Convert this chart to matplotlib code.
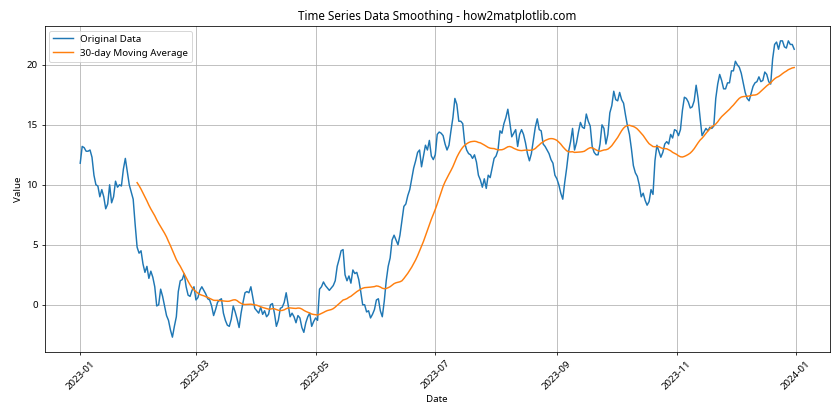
import matplotlib
matplotlib.use("Agg")
import matplotlib.pyplot as plt
import numpy as np
import pandas as pd

# daily values, 2023-01-01 .. 2023-12-31
jan_feb = [
    11.8, 13.2, 13.1, 12.8, 12.8, 12.9, 12.3, 10.8, 10.0, 9.9,
    9.0, 9.6, 9.0, 8.0, 8.4, 10.0, 8.5, 9.0, 10.3, 9.8,
    10.0, 9.9, 11.3, 12.2, 11.1, 10.0, 9.4, 8.8, 6.7, 4.8,
    4.3, 4.5, 3.4, 2.7, 3.2, 2.2, 2.8, 2.3, 1.5, -0.1,
    0.0, 1.3, 0.7, -0.1, -0.9, -1.3, -2.1, -2.7, -1.8, -1.0,
    1.1, 2.0, 2.1, 2.6, 1.5, 0.8, 0.7, 1.2, 1.5, 0.4,
]
mar_apr = [
    0.6, 1.2, 1.5, 1.2, 0.9, 0.5, 0.4, -0.1, -0.9, -0.4,
    0.2, 0.4, 0.5, -0.7, -1.3, -1.7, -1.8, -1.2, -0.1, -0.6,
    -1.2, -1.9, -0.7, 0.2, 1.0, 1.1, 1.0, 1.5, 0.6, -0.3,
    -0.5, -0.7, -0.2, -0.8, -0.5, -1.0, -0.8, 0.0, 0.1, -0.7,
    -1.8, -1.3, -0.3, -0.2, 0.2, 1.0, 0.0, -1.0, -0.7, -1.0,
    -1.5, -0.9, -1.1, -1.9, -2.3, -1.5, -1.0, -0.7, -1.8, -1.4,
]
may_jun = [
    -1.1, -1.3, 1.3, 1.5, 1.9, 1.6, 1.4, 1.2, 1.4, 1.6,
    2.0, 3.2, 3.8, 4.5, 4.6, 2.5, 2.0, 2.4, 1.8, 2.9,
    2.6, 2.7, 2.1, 1.1, 0.0, 0.0, -0.6, -0.5, -1.1, -0.8,
    -0.4, 0.4, 0.5, -0.5, -1.0, 0.3, 2.0, 3.2, 3.9, 5.4,
    5.8, 5.4, 5.0, 5.8, 7.0, 8.2, 8.4, 9.1, 9.6, 10.5,
    11.4, 12.0, 12.7, 12.9, 11.5, 12.4, 13.3, 12.9, 13.7, 12.4,
    12.1,
]
jul_aug = [
    12.5, 14.2, 14.4, 14.3, 14.1, 13.4, 12.9, 13.3, 14.5, 15.6,
    17.2, 16.7, 15.3, 15.3, 15.1, 13.5, 12.9, 12.6, 12.5, 12.2,
    12.5, 11.9, 10.8, 10.4, 9.8, 10.5, 9.7, 10.8, 10.6, 11.4,
    12.2, 12.4, 12.9, 14.5, 14.3, 15.1, 15.6, 16.3, 15.2, 14.0,
    14.3, 14.6, 13.2, 14.2, 14.6, 14.2, 13.5, 12.6, 12.0, 12.6,
    13.7, 14.8, 15.5, 14.6, 14.5, 13.4, 13.2, 12.9, 12.6, 12.1,
    11.8, 10.8,
]
sep_oct = [
    10.5, 10.0, 9.3, 8.8, 10.2, 11.4, 12.8, 13.6, 14.7, 12.9,
    13.5, 14.4, 15.2, 14.8, 14.7, 15.9, 15.3, 14.9, 13.2, 12.7,
    12.5, 12.5, 13.4, 15.0, 14.7, 13.4, 14.2, 16.0, 16.6, 17.8,
    17.1, 17.0, 17.7, 17.1, 16.8, 15.8, 14.9, 14.2, 13.0, 11.6,
    11.0, 10.7, 10.0, 9.0, 9.3, 8.7, 8.3, 8.6, 9.6, 9.2,
    12.0, 13.3, 12.8, 12.3, 12.7, 13.4, 13.6, 13.4, 14.2, 13.9,
    14.6,
]
nov_dec = [
    14.5, 14.1, 14.6, 16.2, 17.3, 17.2, 16.9, 16.4, 16.5, 17.0,
    18.3, 17.2, 15.6, 14.1, 14.4, 14.7, 14.5, 14.8, 14.7, 14.9,
    17.2, 18.4, 19.2, 18.7, 18.0, 18.0, 18.5, 18.5, 19.5, 19.5,
    20.3, 20.0, 19.8, 19.3, 18.5, 17.7, 17.2, 17.0, 17.6, 18.2,
    18.5, 18.6, 19.0, 18.6, 18.7, 19.4, 19.2, 18.6, 18.4, 20.5,
    21.7, 21.9, 21.3, 22.0, 22.0, 21.5, 21.4, 22.0, 21.7, 21.7,
    21.3,
]

values = jan_feb + mar_apr + may_jun + jul_aug + sep_oct + nov_dec
dates = pd.date_range("2023-01-01", periods=len(values), freq="D")
window = 30

series = pd.Series(values, index=dates)
smoothed = series.rolling(window=window).mean()

plt.rcParams["font.family"] = ["Noto Sans", "DejaVu Sans"]

fig, ax = plt.subplots(figsize=(12, 6), dpi=70)
ax.plot(series.index, series.values, label="Original Data")
ax.plot(smoothed.index, smoothed.values, label=f"{window}-day Moving Average")
ax.set_title("Time Series Data Smoothing - how2matplotlib.com")
ax.set_xlabel("Date")
ax.set_ylabel("Value")
ax.legend(loc="upper left")
ax.grid(True)
plt.xticks(rotation=45)
fig.subplots_adjust(left=0.053, right=0.988, top=0.938, bottom=0.162)
fig.savefig("out.png", dpi=70)
plt.close(fig)
